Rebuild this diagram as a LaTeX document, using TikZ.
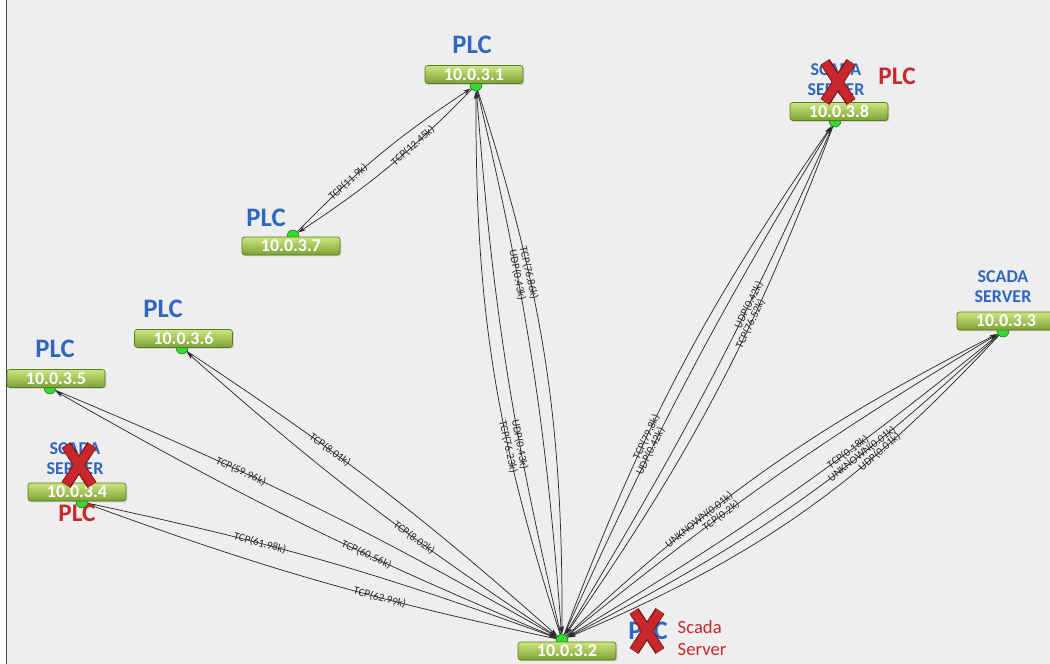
\documentclass[tikz,border=0pt]{standalone}
\usepackage{fontspec}
\setmainfont{Carlito}
\usetikzlibrary{arrows.meta,shadows}
\definecolor{bg}{HTML}{EEEEEE}
\definecolor{bartop}{HTML}{CCE57F}
\definecolor{barbot}{HTML}{7BA232}
\definecolor{barline}{HTML}{5A7A20}
\definecolor{plcblue}{HTML}{2F66C0}
\definecolor{xred}{HTML}{C8282C}
\definecolor{xdark}{HTML}{7A1214}
\definecolor{dotgreen}{HTML}{30DD30}
\definecolor{edgecol}{HTML}{2A2A2A}
\tikzset{
  ipbar/.style={rectangle, rounded corners=2pt, minimum width=73.5pt, minimum height=13.5pt, inner sep=0pt,
    top color=bartop, bottom color=barbot, draw=barline, line width=0.5pt, text=white,
    font=\bfseries\fontsize{13.5}{14}\selectfont,
    drop shadow={shadow xshift=1pt, shadow yshift=-1pt, opacity=0.25}},
  hostdot/.style={circle, minimum size=9pt, inner sep=0pt, fill=dotgreen, draw=green!35!black, line width=0.3pt},
  flow/.style={draw=edgecol, line width=0.55pt, -{Stealth[length=6pt,width=3.4pt]}},
  flowlabel/.style={sloped, font=\fontsize{8.3}{9}\selectfont, text=edgecol, inner sep=0.5pt, anchor=center},
  plctext/.style={font=\bfseries\fontsize{20}{20}\selectfont, text=plcblue, inner sep=0pt},
  redplc/.style={font=\bfseries\fontsize{19}{19}\selectfont, text=xred, inner sep=0pt},
  scadatext/.style={font=\bfseries\fontsize{13.5}{15}\selectfont, text=plcblue, align=center, inner sep=0pt},
  redserver/.style={font=\fontsize{14}{17}\selectfont, text=xred, align=left, inner sep=0pt},
  crossx/.pic={
    \draw[xdark, line width=8pt, line cap=butt] (-13,-20) -- (13,20) (13,-20) -- (-13,20);
    \draw[xred, line width=6.4pt, line cap=butt] (-13,-19.4) -- (13,19.4) (13,-19.4) -- (-13,19.4);
  }
}
\begin{document}
\begin{tikzpicture}[x=0.75pt,y=-0.75pt]
\useasboundingbox (0,0) rectangle (1050,664);
\fill[white] (0,0) rectangle (1050,664);
\fill[bg] (7,0) rectangle (1050,664);
\draw[black!70, line width=0.75pt] (6.5,0) -- (6.5,664);

% host dots
\node[hostdot] (d1) at (476,85) {};
\node[hostdot] (d2) at (562,640) {};
\node[hostdot] (d3) at (1003,331) {};
\node[hostdot] (d4) at (82,502) {};
\node[hostdot] (d5) at (50,388) {};
\node[hostdot] (d6) at (182,348) {};
\node[hostdot] (d7) at (293,236) {};
\node[hostdot] (d8) at (835,121) {};

% 10.0.3.1 <-> 10.0.3.7
\draw[flow] (d7) to[bend left=6] node[flowlabel,pos=0.3]{TCP(11.9k)} (d1);
\draw[flow] (d1) to[bend left=6] node[flowlabel,pos=0.35]{TCP(12.45k)} (d7);
% 10.0.3.1 <-> 10.0.3.2
\draw[flow] (d1) to[bend left=9] node[flowlabel,pos=0.33]{TCP(76.86k)} (d2);
\draw[flow] (d1) to[bend left=4.5] node[flowlabel,pos=0.33]{UDP(0.43k)} (d2);
\draw[flow] (d2) to[bend left=4.5] node[flowlabel,pos=0.34]{UDP(0.43k)} (d1);
\draw[flow] (d2) to[bend left=9] node[flowlabel,pos=0.34]{TCP(76.23k)} (d1);
% 10.0.3.8 <-> 10.0.3.2
\draw[flow] (d8) to[bend left=7] node[flowlabel,pos=0.36]{TCP(76.52k)} (d2);
\draw[flow] (d8) to[bend left=3.5] node[flowlabel,pos=0.33]{UDP(0.42k)} (d2);
\draw[flow] (d2) to[bend left=7] node[flowlabel,pos=0.36]{TCP(79.8k)} (d8);
\draw[flow] (d2) to[bend left=3.5] node[flowlabel,pos=0.34]{UDP(0.42k)} (d8);
% 10.0.3.3 <-> 10.0.3.2
\draw[flow] (d3) to[bend left=4] node[flowlabel,pos=0.35]{TCP(0.18k)} (d2);
\draw[flow] (d3) to[bend left=8] node[flowlabel,pos=0.33]{UNKNOWN(0.01k)} (d2);
\draw[flow] (d3) to[bend left=12] node[flowlabel,pos=0.30]{UDP(0.01k)} (d2);
\draw[flow] (d2) to[bend left=8] node[flowlabel,pos=0.32]{UNKNOWN(0.01k)} (d3);
\draw[flow] (d2) to[bend left=4] node[flowlabel,pos=0.36]{TCP(0.2k)} (d3);
% 10.0.3.6 <-> 10.0.3.2
\draw[flow] (d6) to[bend left=4] node[flowlabel,pos=0.36]{TCP(8.01k)} (d2);
\draw[flow] (d2) to[bend left=4] node[flowlabel,pos=0.36]{TCP(8.02k)} (d6);
% 10.0.3.5 <-> 10.0.3.2
\draw[flow] (d5) to[bend left=3.5] node[flowlabel,pos=0.35]{TCP(59.96k)} (d2);
\draw[flow] (d2) to[bend left=3.5] node[flowlabel,pos=0.36]{TCP(60.56k)} (d5);
% 10.0.3.4 <-> 10.0.3.2
\draw[flow] (d4) to[bend left=4] node[flowlabel,pos=0.35]{TCP(61.98k)} (d2);
\draw[flow] (d2) to[bend left=4] node[flowlabel,pos=0.36]{TCP(62.99k)} (d4);

% address bars
\node[ipbar] (b1) at (474,74.5) {10.0.3.1};
\node[ipbar] (b8) at (839,111.5) {10.0.3.8};
\node[ipbar] (b7) at (291,246) {10.0.3.7};
\node[ipbar] (b3) at (1006,321) {10.0.3.3};
\node[ipbar] (b6) at (183.5,338.5) {10.0.3.6};
\node[ipbar] (b5) at (56,378.5) {10.0.3.5};
\node[ipbar] (b4) at (77,492) {10.0.3.4};
\node[ipbar] (b2) at (567,651) {10.0.3.2};

% role labels
\node[plctext] (p1) at (472,45) {PLC};
\node[plctext] (p7) at (266,218) {PLC};
\node[plctext] (p6) at (163,309) {PLC};
\node[plctext] (p5) at (55,349) {PLC};

\node[scadatext] (s3) at (1003,287) {SCADA\\SERVER};

\node[scadatext] (s8) at (836,80) {SCADA\\SERVER};
\pic at (838,82) {crossx};
\node[redplc] (r8) at (897,76) {PLC};

\node[scadatext] (s4) at (75,459) {SCADA\\SERVER};
\pic at (79,465) {crossx};
\node[redplc] (r4) at (77,513) {PLC};

\node[plctext] (p2) at (648,631) {PLC};
\pic at (647,631) {crossx};
\node[redserver] (r2) at (702,638) {Scada\\Server};
\end{tikzpicture}
\end{document}
